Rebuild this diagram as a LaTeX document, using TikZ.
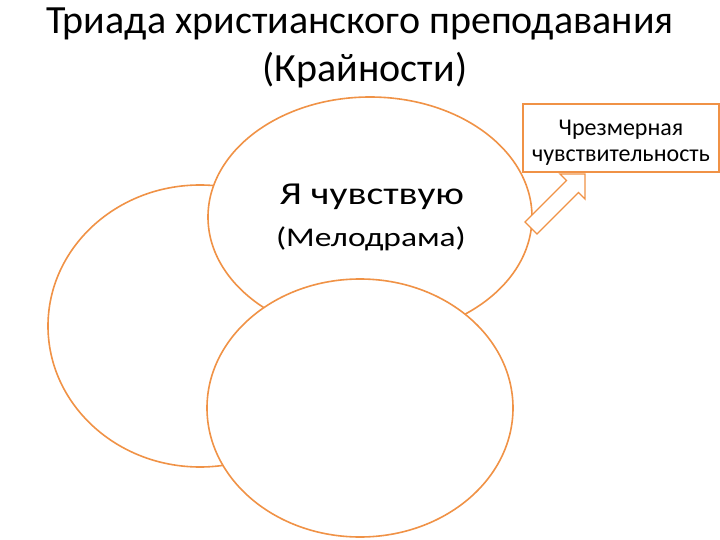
\documentclass[tikz,border=0pt]{standalone}
\usepackage{fontspec}
\setmainfont{Carlito}
\newfontfamily\widefont[FakeStretch=1.24]{Carlito}
\usepackage{xcolor}
\usepackage{tikz}
\usetikzlibrary{positioning,shapes.geometric}
\definecolor{accorange}{RGB}{240,146,70}

\begin{document}
\begin{tikzpicture}[x=1pt,y=-1pt,
    oval/.style={ellipse,draw=accorange,line width=1.6pt,fill=white,inner sep=0pt},
    label/.style={anchor=base,inner sep=0pt}]
    \useasboundingbox (0,0) rectangle (720,540);
    \node[label,font=\fontsize{40}{48}\selectfont] (T1) at (360,34) {Триада христианского преподавания};
    \node[label,font=\fontsize{40}{48}\selectfont] (T2) at (365,82) {(Крайности)};
    \node[oval,minimum width=304pt,minimum height=282pt] (L) at (200,326) {};
    \node[oval,minimum width=324pt,minimum height=240pt] (U) at (370,217) {};
    \node[oval,minimum width=306pt,minimum height=258pt] (D) at (360,408) {};
    \node[label,font=\widefont\fontsize{32}{36}\selectfont] (feel) at (372,205) {Я чувствую};
    \node[label,font=\widefont\fontsize{27}{30}\selectfont] (melo) at (371,247) {(Мелодрама)};
    \node[draw=accorange,line width=1.6pt,fill=white,minimum width=196pt,minimum height=68pt,
      inner sep=0pt] (box) at (621,138) {};
    \node[align=center,inner sep=0pt,font=\fontsize{24}{26}\selectfont,yshift=-5pt] (boxtext) at (box.center)
      {Чрезмерная\\ чувствительность};
    % block arrow
    \draw[accorange,line width=1.3pt,fill=white,line join=miter]
      (525,222) -- (566.5,180.5) -- (560,174) -- (585,174) -- (585,199)
      -- (578.5,192.5) -- (537,234) -- cycle;
  \end{tikzpicture}
\end{document}
